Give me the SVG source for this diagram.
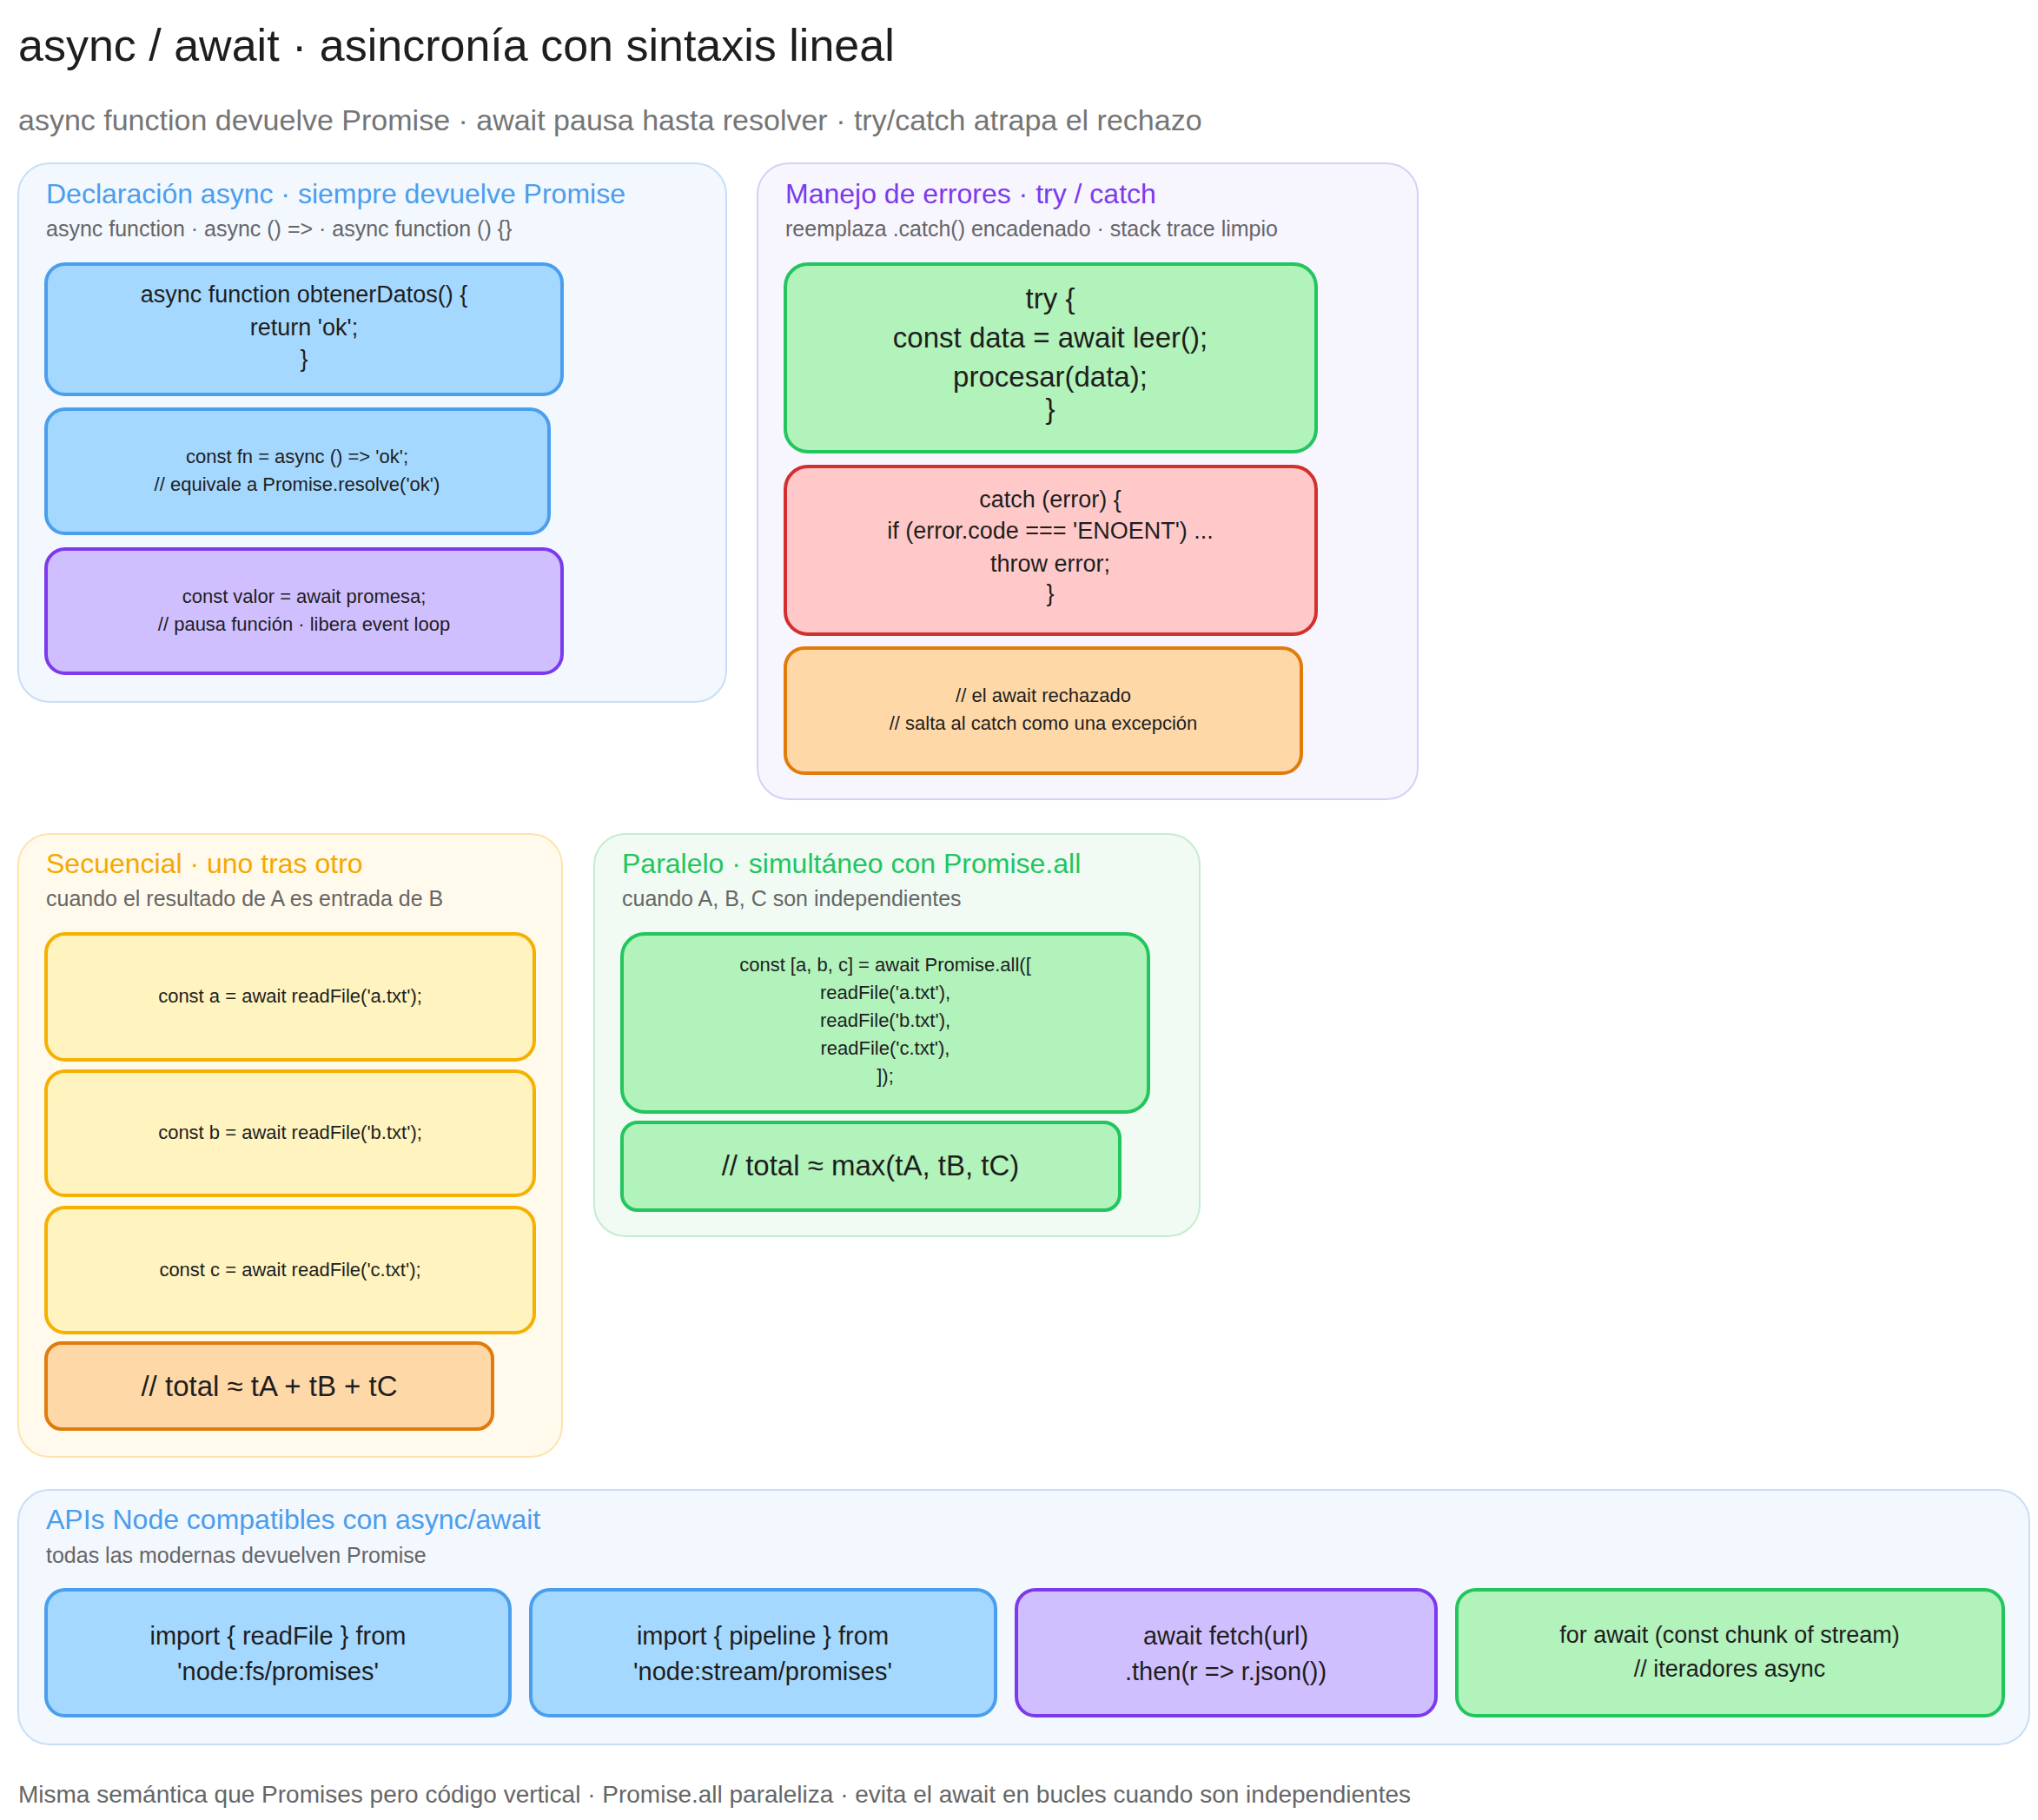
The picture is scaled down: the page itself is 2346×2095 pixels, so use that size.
<svg xmlns="http://www.w3.org/2000/svg" width="2346" height="2095" viewBox="0 0 2346 2095">
<style>
text{font-family:"Liberation Sans",Arial,sans-serif;fill:#1e1e1e}
.t{font-size:52px}
.st{font-size:34px;fill:#757575}
.pt{font-size:32px}
.ps{font-size:25px;fill:#666}
.c{text-anchor:middle}
.blue{fill:#a5d8ff;stroke:#4a9eed;stroke-width:4}
.pur{fill:#d0bfff;stroke:#7c3aed;stroke-width:4}
.grn{fill:#b2f2bb;stroke:#22c55e;stroke-width:4}
.red{fill:#ffc9c9;stroke:#d32f2f;stroke-width:4}
.org{fill:#ffd8a8;stroke:#e07b0c;stroke-width:4}
.yel{fill:#fff3bf;stroke:#f5b000;stroke-width:4}
.f{font-size:22px}.m{font-size:27px}.l{font-size:33px}.a{font-size:29px}
</style>
<text class="t" x="21" y="70">async / await · asincronía con sintaxis lineal</text>
<text class="st" x="21" y="150">async function devuelve Promise · await pausa hasta resolver · try/catch atrapa el rechazo</text>

<g id="panel-decl">
<rect x="21" y="188" width="815" height="620" rx="36" fill="#f3f7fe" stroke="#c8def6" stroke-width="2"/>
<text class="pt" x="53" y="234" fill="#4a9eed" style="fill:#4a9eed">Declaración async · siempre devuelve Promise</text>
<text class="ps" x="53" y="272">async function · async () =&gt; · async function () {}</text>
</g>
<g id="n-decl1"><rect class="blue" x="53" y="304" width="594" height="150" rx="22"/>
<text class="m c" x="350" y="348">async function obtenerDatos() {</text><text class="m c" x="350" y="386">return 'ok';</text><text class="m c" x="350" y="422">}</text></g>
<g id="n-decl2"><rect class="blue" x="53" y="471" width="579" height="143" rx="22"/>
<text class="f c" x="342" y="533">const fn = async () =&gt; 'ok';</text><text class="f c" x="342" y="565">// equivale a Promise.resolve('ok')</text></g>
<g id="n-decl3"><rect class="pur" x="53" y="632" width="594" height="143" rx="22"/>
<text class="f c" x="350" y="694">const valor = await promesa;</text><text class="f c" x="350" y="726">// pausa función · libera event loop</text></g>

<g id="panel-err">
<rect x="872" y="188" width="760" height="732" rx="36" fill="#f7f5fe" stroke="#dccdf8" stroke-width="2"/>
<text class="pt" x="904" y="234" style="fill:#7c3aed">Manejo de errores · try / catch</text>
<text class="ps" x="904" y="272">reemplaza .catch() encadenado · stack trace limpio</text>
</g>
<g id="n-try"><rect class="grn" x="904" y="304" width="611" height="216" rx="26"/>
<text class="l c" x="1209" y="355">try {</text><text class="l c" x="1209" y="400">const data = await leer();</text><text class="l c" x="1209" y="445">procesar(data);</text><text class="l c" x="1209" y="482">}</text></g>
<g id="n-catch"><rect class="red" x="904" y="537" width="611" height="193" rx="26"/>
<text class="m c" x="1209" y="584">catch (error) {</text><text class="m c" x="1209" y="620">if (error.code === 'ENOENT') ...</text><text class="m c" x="1209" y="658">throw error;</text><text class="m c" x="1209" y="692">}</text></g>
<g id="n-comment"><rect class="org" x="904" y="746" width="594" height="144" rx="22"/>
<text class="f c" x="1201" y="808">// el await rechazado</text><text class="f c" x="1201" y="840">// salta al catch como una excepción</text></g>

<g id="panel-seq">
<rect x="21" y="960" width="626" height="717" rx="36" fill="#fffaec" stroke="#fde3b0" stroke-width="2"/>
<text class="pt" x="53" y="1005" style="fill:#f5a800">Secuencial · uno tras otro</text>
<text class="ps" x="53" y="1043">cuando el resultado de A es entrada de B</text>
</g>
<g id="n-a"><rect class="yel" x="53" y="1075" width="562" height="145" rx="22"/><text class="f c" x="334" y="1154">const a = await readFile('a.txt');</text></g>
<g id="n-b"><rect class="yel" x="53" y="1233" width="562" height="143" rx="22"/><text class="f c" x="334" y="1311">const b = await readFile('b.txt');</text></g>
<g id="n-c"><rect class="yel" x="53" y="1390" width="562" height="144" rx="22"/><text class="f c" x="334" y="1469">const c = await readFile('c.txt');</text></g>
<g id="n-tseq"><rect class="org" x="53" y="1546" width="514" height="99" rx="18"/><text class="l c" x="310" y="1607">// total ≈ tA + tB + tC</text></g>

<g id="panel-par">
<rect x="684" y="960" width="697" height="463" rx="36" fill="#f1fbf3" stroke="#c4ecd0" stroke-width="2"/>
<text class="pt" x="716" y="1005" style="fill:#22c55e">Paralelo · simultáneo con Promise.all</text>
<text class="ps" x="716" y="1043">cuando A, B, C son independientes</text>
</g>
<g id="n-all"><rect class="grn" x="716" y="1075" width="606" height="205" rx="26"/>
<text class="f c" x="1019" y="1118">const [a, b, c] = await Promise.all([</text><text class="f c" x="1019" y="1150">readFile('a.txt'),</text><text class="f c" x="1019" y="1182">readFile('b.txt'),</text><text class="f c" x="1019" y="1214">readFile('c.txt'),</text><text class="f c" x="1019" y="1246">]);</text></g>
<g id="n-tpar"><rect class="grn" x="716" y="1292" width="573" height="101" rx="18"/><text class="l c" x="1002" y="1353">// total ≈ max(tA, tB, tC)</text></g>

<g id="panel-api">
<rect x="21" y="1715" width="2315" height="293" rx="36" fill="#f3f7fe" stroke="#c8def6" stroke-width="2"/>
<text class="pt" x="53" y="1760" style="fill:#4a9eed">APIs Node compatibles con async/await</text>
<text class="ps" x="53" y="1799">todas las modernas devuelven Promise</text>
</g>
<g id="n-fs"><rect class="blue" x="53" y="1830" width="534" height="145" rx="22"/><text class="a c" x="320" y="1893">import { readFile } from</text><text class="a c" x="320" y="1934">'node:fs/promises'</text></g>
<g id="n-stream"><rect class="blue" x="611" y="1830" width="535" height="145" rx="22"/><text class="a c" x="878" y="1893">import { pipeline } from</text><text class="a c" x="878" y="1934">'node:stream/promises'</text></g>
<g id="n-fetch"><rect class="pur" x="1170" y="1830" width="483" height="145" rx="22"/><text class="a c" x="1411" y="1893">await fetch(url)</text><text class="a c" x="1411" y="1934">.then(r =&gt; r.json())</text></g>
<g id="n-iter"><rect class="grn" x="1677" y="1830" width="629" height="145" rx="22"/><text class="m c" x="1991" y="1891">for await (const chunk of stream)</text><text class="m c" x="1991" y="1930">// iteradores async</text></g>

<g id="connectors"></g>
<text x="21" y="2075" style="font-size:28px;fill:#666">Misma semántica que Promises pero código vertical · Promise.all paraleliza · evita el await en bucles cuando son independientes</text>
</svg>
